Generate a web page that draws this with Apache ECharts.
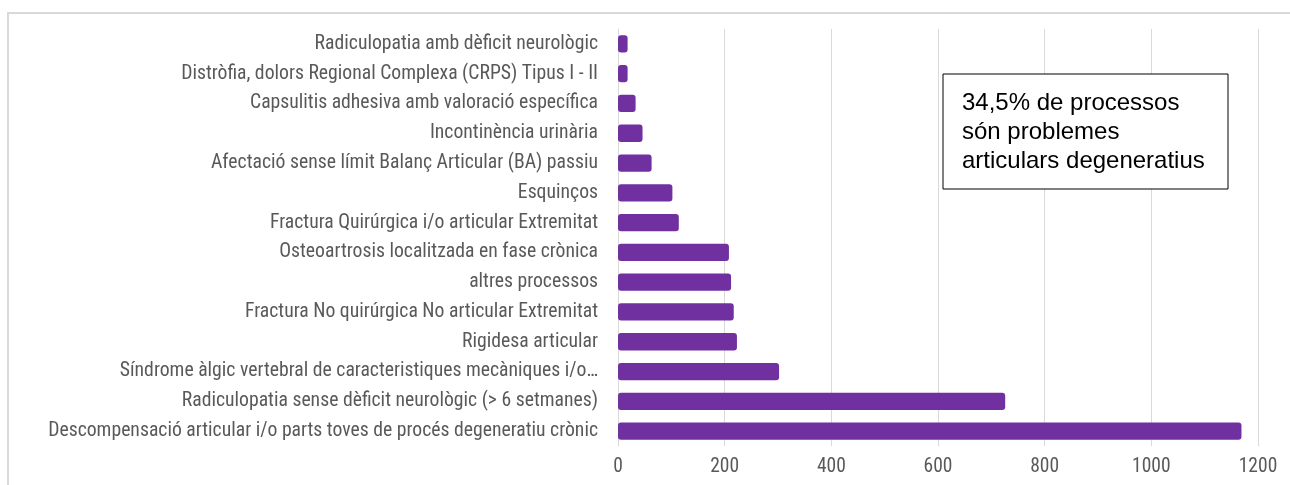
<!DOCTYPE html>
<html>
<head>
<meta charset="utf-8">
<script src="https://cdn.jsdelivr.net/npm/echarts@6/dist/echarts.min.js"></script>
<style>html,body{margin:0;padding:0;background:#fff;}#c{width:1290px;height:485px;}</style>
</head>
<body>
<div id="c"></div>
<script>
const categories = [
  "Descompensació articular i/o parts toves de procés degeneratiu crònic",
  "Radiculopatia sense dèficit neurològic (> 6 setmanes)",
  "Síndrome àlgic vertebral de caracteristiques mecàniques i/o…",
  "Rigidesa articular",
  "Fractura No quirúrgica No articular Extremitat",
  "altres processos",
  "Osteoartrosis localitzada en fase crònica",
  "Fractura Quirúrgica i/o articular Extremitat",
  "Esquinços",
  "Afectació sense límit Balanç Articular (BA) passiu",
  "Incontinència urinària",
  "Capsulitis adhesiva amb valoració específica",
  "Distròfia, dolors Regional Complexa (CRPS) Tipus I - II",
  "Radiculopatia amb dèficit neurològic"
];
const values = [1169, 726, 302, 223, 217, 212, 208, 114, 102, 63, 46, 33, 18, 18];
const xTicks = [0, 200, 400, 600, 800, 1000, 1200];
const noteLines = ["34,5% de processos", "són problemes", "articulars degeneratius"];

const labelFont = "'Liberation Sans Narrow','Arial Narrow','Roboto Condensed',sans-serif";
const chart = echarts.init(document.getElementById('c'), null, {renderer: 'canvas'});
chart.setOption({
  animation: false,
  backgroundColor: '#fff',
  grid: {left: 618, right: 32, top: 29, bottom: 39, containLabel: false},
  xAxis: {
    type: 'value', min: xTicks[0], max: xTicks[xTicks.length - 1], interval: 200,
    axisLine: {show: false}, axisTick: {show: false},
    splitLine: {lineStyle: {color: '#d9d9d9', width: 1}},
    axisLabel: {color: '#595959', fontSize: 19.5, fontFamily: labelFont, margin: 11,
      formatter: function (v) { return String(v); }}
  },
  yAxis: {
    type: 'category', data: categories,
    axisLine: {show: true, lineStyle: {color: '#d9d9d9', width: 1}},
    axisTick: {show: false},
    axisLabel: {color: '#595959', fontSize: 19.7, fontFamily: labelFont, margin: 20}
  },
  series: [{
    type: 'bar', data: values, barWidth: '58%',
    itemStyle: {color: '#7030a0', borderRadius: 3}
  }],
  graphic: [
    {type: 'rect', shape: {x: 8, y: 13, width: 1300, height: 500}, style: {fill: 'none', stroke: '#d9d9d9', lineWidth: 2}, silent: true},
    {type: 'rect', shape: {x: 943, y: 74, width: 285, height: 115}, style: {fill: '#fff', stroke: '#000', lineWidth: 1}, z: 10},
    {type: 'text', x: 962, y: 89, z: 11, style: {text: noteLines.join('\n'), fill: '#000', font: "24px 'Liberation Sans', Arial, sans-serif", lineHeight: 29}}
  ]
});
</script>
</body>
</html>
